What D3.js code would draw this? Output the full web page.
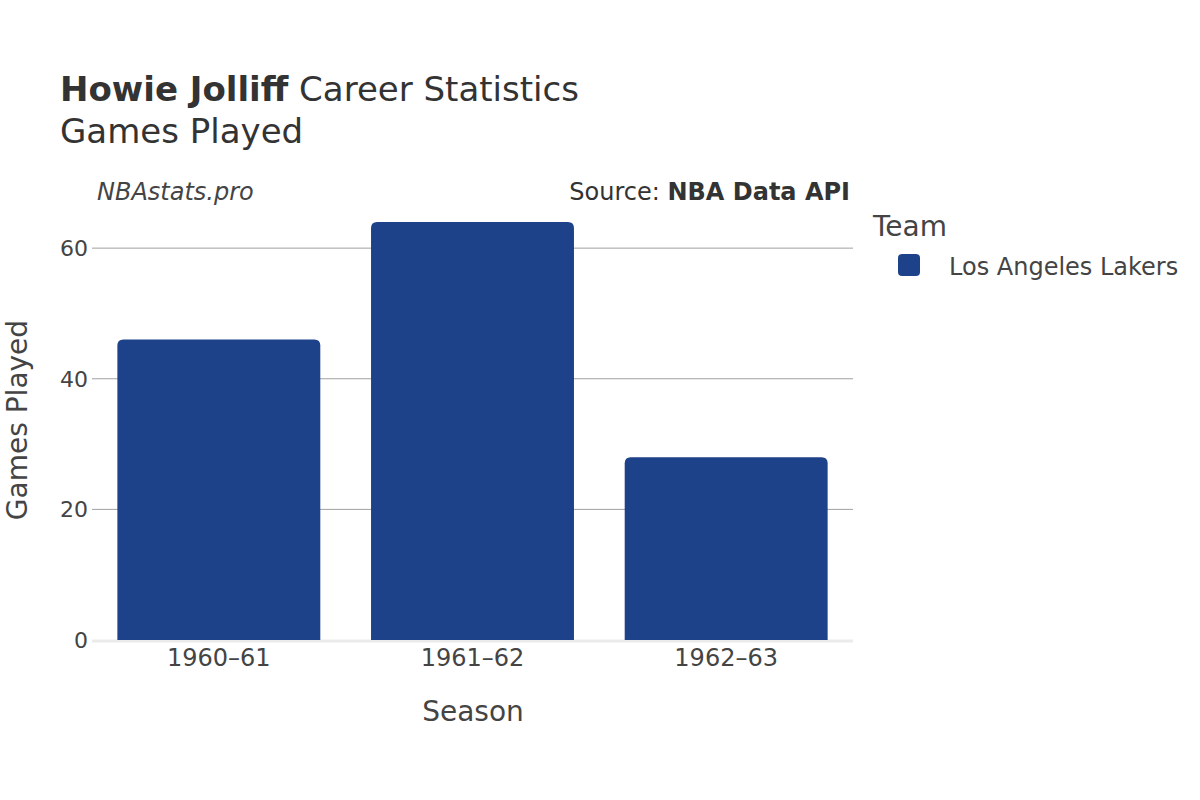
<!DOCTYPE html>
<html><head><meta charset="utf-8">
<script src="https://cdn.jsdelivr.net/npm/d3@7"></script>
<style>body{margin:0;background:#fff;} text{font-family:"DejaVu Sans",sans-serif;}</style>
</head><body><div id="chart"></div>
<script>
const seasons = ["1960\u201361", "1961\u201362", "1962\u201363"];
const gamesPlayed = [46, 64, 28];
const yTicks = [0, 20, 40, 60];
const teamName = "Los Angeles Lakers";
const barColor = "#1d428a";

const W = 1200, H = 800;
const svg = d3.select("#chart").append("svg").attr("width", W).attr("height", H);

const x = d3.scaleBand().domain(seasons).range([92, 853]).paddingInner(0.2).paddingOuter(0.1);
const y = d3.scaleLinear().domain([0, 64]).range([640, 222]);

// gridlines
svg.append("g").selectAll("line").data(yTicks.filter(d => d > 0)).join("line")
  .attr("x1", 92).attr("x2", 853).attr("y1", d => y(d)).attr("y2", d => y(d))
  .attr("stroke", "#a0a0a0").attr("stroke-width", 1);
// zero line
svg.append("line").attr("x1", 92).attr("x2", 853).attr("y1", y(0)+1).attr("y2", y(0)+1)
  .attr("stroke", "#ebebeb").attr("stroke-width", 3);

// bars with rounded top corners
const r = 6;
svg.append("g").selectAll("path").data(seasons).join("path")
  .attr("d", (d, i) => {
    const x0 = x(d), x1 = x(d) + x.bandwidth(), yt = y(gamesPlayed[i]), yb = y(0);
    return `M${x0},${yb}V${yt+r}Q${x0},${yt} ${x0+r},${yt}H${x1-r}Q${x1},${yt} ${x1},${yt+r}V${yb}Z`;
  })
  .attr("fill", barColor);

// y tick labels
svg.append("g").selectAll("text").data(yTicks).join("text")
  .attr("x", 88).attr("y", d => y(d)).attr("dy", "0.36em").attr("text-anchor", "end")
  .attr("font-size", 22).attr("fill", "#444").text(d => d);

// x tick labels
svg.append("g").selectAll("text").data(seasons).join("text")
  .attr("x", d => x(d) + x.bandwidth()/2).attr("y", 666).attr("text-anchor", "middle")
  .attr("font-size", 24).attr("fill", "#444").text(d => d);

// axis titles
svg.append("text").attr("x", 473).attr("y", 721).attr("text-anchor", "middle")
  .attr("font-size", 28).attr("fill", "#444").text("Season");
svg.append("text").attr("transform", "translate(27,420) rotate(-90)").attr("text-anchor", "middle")
  .attr("font-size", 28).attr("fill", "#444").text("Games Played");

// title
const t = svg.append("text").attr("x", 60).attr("y", 101).attr("font-size", 34).attr("fill", "#333");
t.append("tspan").attr("font-weight", "bold").text("Howie Jolliff");
t.append("tspan").text(" Career Statistics");
svg.append("text").attr("x", 60).attr("y", 143).attr("font-size", 34).attr("fill", "#333").text("Games Played");

// annotations
svg.append("text").attr("x", 97).attr("y", 200).attr("font-size", 24).attr("font-style", "italic")
  .attr("fill", "#444").text("NBAstats.pro");
const s = svg.append("text").attr("x", 850).attr("y", 200).attr("text-anchor", "end")
  .attr("font-size", 24).attr("fill", "#333");
s.append("tspan").text("Source: ");
s.append("tspan").attr("font-weight", "bold").text("NBA Data API");

// legend
svg.append("text").attr("x", 873).attr("y", 236).attr("font-size", 28).attr("fill", "#444").text("Team");
svg.append("rect").attr("x", 898).attr("y", 254).attr("width", 22).attr("height", 22).attr("rx", 4)
  .attr("fill", barColor);
svg.append("text").attr("x", 949).attr("y", 266).attr("dy", "0.36em").attr("font-size", 24)
  .attr("fill", "#444").text(teamName);
</script></body></html>
